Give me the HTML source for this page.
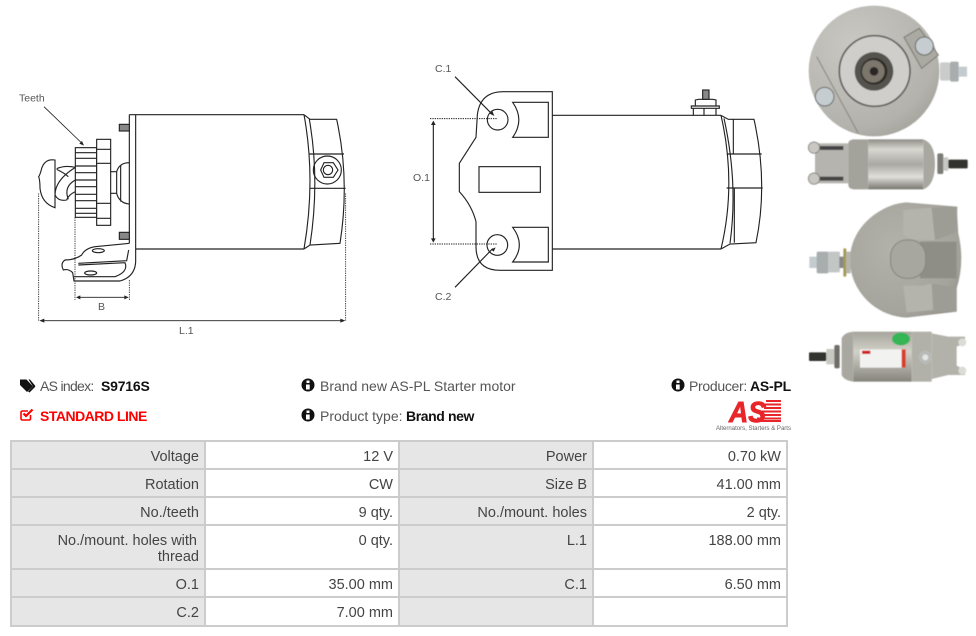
<!DOCTYPE html>
<html><head><meta charset="utf-8"><style>
html,body{margin:0;padding:0;background:#fff;width:976px;height:636px;overflow:hidden}
body{position:relative;font-family:"Liberation Sans",sans-serif;color:#555}
.t{position:absolute;font-size:14px;line-height:18px;white-space:nowrap}
.b{color:#111;font-weight:700;letter-spacing:-.2px}
#tb{position:absolute;left:10px;top:440px;width:778px;height:187px;background:#ccc}
.c{position:absolute;box-sizing:border-box;font-size:14.5px;line-height:16px;text-align:right;padding:7px 5px 0 0;background:#fff;color:#444}
.l{background:#e6e6e6}
svg{position:absolute;left:0;top:0}
</style></head><body>
<svg width="976" height="636" viewBox="0 0 976 636">
<defs>
<radialGradient id="g1" cx=".35" cy=".3" r=".9"><stop offset="0" stop-color="#c9c8c3"/><stop offset=".7" stop-color="#b3b2ac"/><stop offset="1" stop-color="#97968e"/></radialGradient>
<radialGradient id="g4" cx=".4" cy=".4" r=".8"><stop offset="0" stop-color="#b3b2aa"/><stop offset=".7" stop-color="#a5a49c"/><stop offset="1" stop-color="#8b8a82"/></radialGradient>
<linearGradient id="g2" x1="0" y1="0" x2="0" y2="1"><stop offset="0" stop-color="#8e8d86"/><stop offset=".2" stop-color="#d8d7d1"/><stop offset=".5" stop-color="#a9a8a2"/><stop offset=".75" stop-color="#e0dfda"/><stop offset="1" stop-color="#77766f"/></linearGradient>
<linearGradient id="g3" x1="0" y1="0" x2="0" y2="1"><stop offset="0" stop-color="#a5a49b"/><stop offset=".4" stop-color="#d2d1c8"/><stop offset="1" stop-color="#86857c"/></linearGradient>
<filter id="bl"><feGaussianBlur stdDeviation="1.2"/></filter>
<filter id="bs"><feGaussianBlur stdDeviation=".25"/></filter>
</defs>

<!-- left drawing -->
<g transform="translate(0,80) scale(.33333)" fill="none" stroke="#222" stroke-width="3.4" filter="url(#bs)">
<path d="M388,104H912M407,507H912M388,104V490M407,104V545Q405,590 360,603H222L218,578Q205,565 190,570Q180,550 195,540Q225,540 245,525Q255,505 285,500L388,490"/>
<path d="M235,550L380,542 386,510M235,555L375,548Q386,575 345,590H222"/>
<ellipse cx="295" cy="512" rx="18" ry="6"/><ellipse cx="272" cy="579" rx="18" ry="6"/>
<path d="M912,104Q948,300 912,507M928,118Q960,300 930,495M912,104L930,118H1010Q1050,300 1020,490L930,495L912,507M928,222H1032M928,325H1037"/>
<circle cx="982" cy="270" r="42"/><path d="M962,270L972,248H1000L1014,270L1000,292H972Z"/><circle cx="984" cy="270" r="14"/>
<rect x="226" y="203" width="64" height="209"/><path d="M226,218H290M226,235H290M226,258H290M226,278H290M226,300H290M226,320H290M226,343H290M226,362H290M226,385H290M226,400H290"/>
<rect x="290" y="178" width="42" height="258" fill="#fff"/><path d="M290,208H332M290,250H332M290,370H332M290,415H332"/>
<path d="M332,275H350V340H332M350,275Q358,248 388,248M350,340Q358,370 388,372M350,275V340M362,255V365"/>
<path d="M226,262Q195,255 170,266M226,335Q205,345 200,360Q175,365 165,345Q165,300 226,262M170,268Q195,280 205,290M226,300Q190,320 205,358"/>
<path d="M165,240Q135,235 125,265Q120,285 116,290Q120,300 120,325Q125,370 165,383V240Z" fill="#fff"/>
<rect x="358" y="133" width="30" height="20" fill="#888"/><rect x="358" y="457" width="30" height="21" fill="#888"/>
<g stroke-width="2.5" stroke-dasharray="4 3"><path d="M116,340V722M1037,340V722M225,412V660M388,600V660"/></g>
<g stroke-width="2.5"><path d="M232,652H382M122,722H1032M132,80L248,192"/></g>
<g fill="#222" stroke="none"><path d="M228,652l13,-6v12zM386,652l-13,-6v12zM118,722l15,-6v12zM1036,722l-15,-6v12zM252,197l-14,-6 8,-8z"/></g>
</g>

<!-- middle drawing -->
<g transform="translate(400,50) scale(.33333)" fill="none" stroke="#222" stroke-width="3.4" filter="url(#bs)">
<path d="M457,125V661H300Q228,661 228,590V515Q215,465 178,425V340L228,262L232,195Q240,125 310,125Z"/>
<path d="M338,157H445V262H338Q375,210 338,157ZM338,532H445V636H338Q378,585 338,532Z"/>
<rect x="237" y="350" width="184" height="77"/>
<circle cx="293" cy="209" r="31"/><circle cx="292" cy="585" r="31"/>
<path d="M457,196H963M457,597H963M963,196Q1010,400 963,597M972,205Q1015,400 990,580M963,196L985,208H1062Q1105,400 1068,578L990,582L963,597M980,312H1085M980,414H1088M1000,208V312M1003,414V578"/>
<path d="M874,175H958V168H874ZM886,150L896,148H938L948,150V168H886ZM880,175V196M948,175V196M912,175V196"/>
<rect x="908" y="120" width="19" height="28" fill="#888"/>
<g stroke-width="3" stroke-dasharray="4 3"><path d="M90,206H292M90,582H292"/></g>
<path d="M100,222V566M165,80L272,188M165,712L278,596"/>
<g fill="#222" stroke="none"><path d="M100,212l-7,13h14zM100,578l-7,-13h14zM283,198l-14,-7 8,-8zM287,592l-14,6 8,7z"/></g>
</g>

<g font-family="Liberation Sans, sans-serif" font-size="10.5" fill="#555">
<text x="19" y="101.5">Teeth</text><text x="98" y="310">B</text><text x="179" y="334">L.1</text>
<text x="435" y="72">C.1</text><text x="413" y="181">O.1</text><text x="435" y="300">C.2</text>
</g>

<!-- photos -->
<g transform="translate(800,0) scale(.33333)" filter="url(#bl)">
<circle cx="222" cy="213" r="196" fill="url(#g1)"/>
<path d="M50,170L175,400" stroke="#85847d" stroke-width="3" fill="none"/>
<path d="M312,112L358,85 415,165 365,205Z" fill="#aaa9a2" stroke="#77766f" stroke-width="3"/>
<circle cx="224" cy="213" r="106" fill="#cfcecA" stroke="#5e5d58" stroke-width="5"/>
<circle cx="222" cy="214" r="58" fill="#55534e"/><circle cx="222" cy="214" r="40" fill="#2d2b28"/><circle cx="220" cy="214" r="34" fill="#7c766c"/><circle cx="222" cy="214" r="13" fill="#2a2825"/>
<circle cx="373" cy="138" r="27" fill="#c5cdd1" stroke="#676661" stroke-width="3"/><circle cx="74" cy="290" r="28" fill="#c5cdd1" stroke="#676661" stroke-width="3"/>
<rect x="420" y="187" width="30" height="55" rx="6" fill="#c9cccb"/><rect x="450" y="185" width="26" height="60" rx="5" fill="#a8adad"/><rect x="476" y="200" width="25" height="30" fill="#c4cbce"/>
<rect x="45" y="430" width="100" height="120" fill="#b5b4ae"/><rect x="60" y="438" width="70" height="12" fill="#444"/><rect x="60" y="530" width="70" height="12" fill="#444"/>
<circle cx="42" cy="443" r="17" fill="#c8c7c1" stroke="#666" stroke-width="2"/><circle cx="42" cy="536" r="17" fill="#c8c7c1" stroke="#666" stroke-width="2"/>
<path d="M145,430Q145,420 160,418H205V568H160Q145,566 145,555Z" fill="#a3a29b"/>
<rect x="205" y="418" width="165" height="150" fill="url(#g2)"/>
<path d="M370,418Q405,430 405,490Q405,555 370,568Z" fill="#a8a7a0"/>
<rect x="412" y="460" width="18" height="62" rx="5" fill="#7c7b76"/><rect x="430" y="472" width="15" height="40" fill="#c9c8c3"/>
<rect x="445" y="479" width="58" height="26" rx="3" fill="#33322f"/>
</g>
<g transform="translate(800,195) scale(.33333)" filter="url(#bl)">
<path d="M150,195C150,90 250,25 320,22L470,35 475,115Q495,200 470,280L470,350 320,368C230,365 150,290 150,195Z" fill="url(#g4)"/>
<path d="M310,45L395,38 405,135H340L310,120ZM310,272H370L395,265 400,345 320,352Z" fill="#b5b4ac"/>
<path d="M395,38L472,35 470,110Q440,125 405,135ZM395,265L470,280V350L400,350Z" fill="#9e9d95"/>
<path d="M360,140H470V250H360Z" fill="#8f8e86"/>
<rect x="272" y="135" width="105" height="115" rx="48" fill="#a8a79f" stroke="#85847c" stroke-width="3"/>
<rect x="28" y="185" width="25" height="34" fill="#c4cbce"/><rect x="50" y="170" width="36" height="65" rx="5" fill="#a8adad"/><rect x="84" y="170" width="36" height="62" rx="5" fill="#c2c6c5"/><rect x="118" y="185" width="14" height="34" fill="#888"/>
<rect x="130" y="160" width="9" height="85" rx="3" fill="#a49a55"/><rect x="138" y="170" width="14" height="65" fill="#b6b5ad"/>
<rect x="27" y="472" width="52" height="26" rx="3" fill="#33322f"/><rect x="79" y="462" width="24" height="46" fill="#c8c7c1"/><rect x="103" y="450" width="16" height="70" rx="5" fill="#6f6e69"/>
<path d="M125,430Q132,413 160,410V560Q132,556 125,540Z" fill="#a8a7a0"/>
<rect x="160" y="410" width="175" height="150" fill="url(#g3)"/>
<rect x="335" y="410" width="60" height="150" fill="#b2b1a9"/>
<path d="M395,415L445,425H495V445L470,455V512L495,525V540H445L395,552Z" fill="#b3b2aa"/>
<circle cx="487" cy="442" r="12" fill="#dcdbd5"/><circle cx="487" cy="527" r="12" fill="#dcdbd5"/>
<ellipse cx="303" cy="432" rx="27" ry="19" fill="#35b555"/>
<rect x="180" y="463" width="135" height="55" fill="#f2f2f0"/><rect x="305" y="463" width="12" height="55" fill="#d83c2a"/><rect x="186" y="467" width="25" height="10" fill="#d02020"/>
<circle cx="376" cy="487" r="20" fill="#b8bab6"/><circle cx="376" cy="487" r="9" fill="#e4e6e4"/>
</g>

<!-- icons -->
<g fill="#111">
<path d="M20,379.5H26.5L33,386.5L27,392L20,385Z"/>
<path d="M28.5,379.5H30L35,385.5Q35.5,386.5 35,387L29.5,392.5L28,391.5L33,386.5Z"/>
<circle cx="308" cy="385" r="6.5"/><circle cx="308" cy="415" r="6.5"/><circle cx="678" cy="385" r="6.5"/>
</g>
<g fill="#fff"><rect x="306.5" y="380.5" width="3" height="2.5"/><rect x="306" y="384.5" width="3.7" height="5"/><rect x="306.5" y="410.5" width="3" height="2.5"/><rect x="306" y="414.5" width="3.7" height="5"/><rect x="676.5" y="380.5" width="3" height="2.5"/><rect x="676" y="384.5" width="3.7" height="5"/></g>
<path d="M30.5,415V418.5Q30.5,420 29,420H22.5Q21,420 21,418.5V412.5Q21,411 22.5,411H28" fill="none" stroke="#f00" stroke-width="1.6"/>
<path d="M23.5,413.5L26,416L32.5,409.5" fill="none" stroke="#f00" stroke-width="2.2"/>

<!-- logo -->
<g>
<g fill="#e8262a"><rect x="766" y="400" width="15" height="2"/><rect x="765" y="403.5" width="16" height="2"/><rect x="764" y="407" width="17" height="2"/><rect x="762" y="410.5" width="19" height="2"/><rect x="760" y="414" width="21" height="2"/><rect x="757" y="417.5" width="24" height="2"/><rect x="754" y="420" width="27" height="2"/></g>
<text x="729" y="422" font-family="Liberation Sans, sans-serif" font-size="29" font-weight="700" font-style="italic" fill="#e8262a" stroke="#e8262a" stroke-width=".9" textLength="37" lengthAdjust="spacingAndGlyphs">AS</text>
<text x="716" y="430" font-family="Liberation Sans, sans-serif" font-size="6.2" fill="#666" textLength="75" lengthAdjust="spacingAndGlyphs">Alternators, Starters &amp; Parts</text>
</g>
</svg>

<div class="t" style="left:40px;top:377px;letter-spacing:-.7px">AS index:</div>
<div class="t b" style="left:101px;top:377px">S9716S</div>
<div class="t" style="left:40px;top:407px;color:#f00;font-weight:700;letter-spacing:-.5px">STANDARD LINE</div>
<div class="t" style="left:320px;top:377px">Brand new AS-PL Starter motor</div>
<div class="t" style="left:320px;top:407px">Product type:</div>
<div class="t b" style="left:406px;top:407px;letter-spacing:-.4px">Brand new</div>
<div class="t" style="left:689px;top:377px;letter-spacing:-.3px">Producer:</div>
<div class="t b" style="left:750px;top:377px">AS-PL</div>

<div id="tb">
<div class="c l" style="left:2px;top:2px;width:192px;height:26px">Voltage</div>
<div class="c" style="left:196px;top:2px;width:192px;height:26px">12 V</div>
<div class="c l" style="left:390px;top:2px;width:192px;height:26px">Power</div>
<div class="c" style="left:584px;top:2px;width:192px;height:26px">0.70 kW</div>

<div class="c l" style="left:2px;top:30px;width:192px;height:26px">Rotation</div>
<div class="c" style="left:196px;top:30px;width:192px;height:26px">CW</div>
<div class="c l" style="left:390px;top:30px;width:192px;height:26px">Size B</div>
<div class="c" style="left:584px;top:30px;width:192px;height:26px">41.00 mm</div>

<div class="c l" style="left:2px;top:58px;width:192px;height:26px">No./teeth</div>
<div class="c" style="left:196px;top:58px;width:192px;height:26px">9 qty.</div>
<div class="c l" style="left:390px;top:58px;width:192px;height:26px">No./mount. holes</div>
<div class="c" style="left:584px;top:58px;width:192px;height:26px">2 qty.</div>

<div class="c l" style="left:2px;top:86px;width:192px;height:42px"><span style="margin-right:2px">No./mount. holes with</span><br>thread</div>
<div class="c" style="left:196px;top:86px;width:192px;height:42px">0 qty.</div>
<div class="c l" style="left:390px;top:86px;width:192px;height:42px">L.1</div>
<div class="c" style="left:584px;top:86px;width:192px;height:42px">188.00 mm</div>

<div class="c l" style="left:2px;top:130px;width:192px;height:26px">O.1</div>
<div class="c" style="left:196px;top:130px;width:192px;height:26px">35.00 mm</div>
<div class="c l" style="left:390px;top:130px;width:192px;height:26px">C.1</div>
<div class="c" style="left:584px;top:130px;width:192px;height:26px">6.50 mm</div>

<div class="c l" style="left:2px;top:158px;width:192px;height:27px">C.2</div>
<div class="c" style="left:196px;top:158px;width:192px;height:27px">7.00 mm</div>
<div class="c l" style="left:390px;top:158px;width:192px;height:27px"></div>
<div class="c" style="left:584px;top:158px;width:192px;height:27px"></div>
</div>
</body></html>
